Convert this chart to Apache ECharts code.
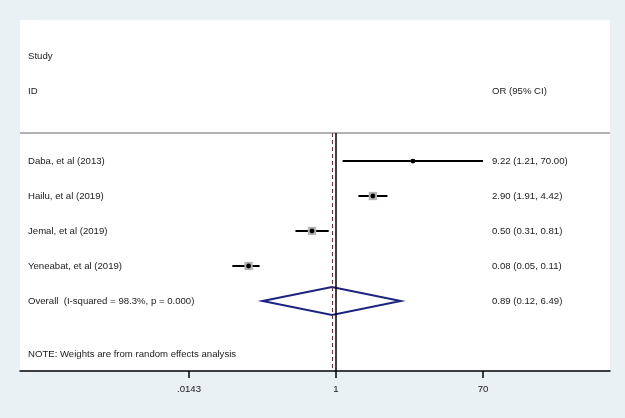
<!DOCTYPE html>
<html>
<head>
    <meta charset="utf-8">
    <title>forest plot</title>
    <style>
        html, body { margin: 0; padding: 0; background: #e9f1f4; }
    </style>
</head>
<body>
    <div id="main" style="width: 625px;height:418px;"></div>
    <script src="https://cdn.jsdelivr.net/npm/echarts@6/dist/echarts.min.js"></script>
    <script type="text/javascript">
        // study rows
        var studies = ['Daba, et al (2013)', 'Hailu, et al (2019)', 'Jemal, et al (2019)', 'Yeneabat, et al (2019)'];
        var orValues = [9.22, 2.90, 0.50, 0.08];
        var lowerCI = [1.21, 1.91, 0.31, 0.05];
        var upperCI = [70.00, 4.42, 0.81, 0.11];
        var weights = [7.6, 30.8, 30.7, 30.9];
        // pooled estimate
        var overallLabel = 'Overall  (I-squared = 98.3%, p = 0.000)';
        var overall = [0.89, 0.12, 6.49];
        // axis
        var tickValues = [0.0143, 1, 70];
        var tickLabels = ['.0143', '1', '70'];
        var noteText = 'NOTE: Weights are from random effects analysis';

        var fmt = function (v) { return v.toFixed(2); };
        var firstRow = 3;
        var headerLineRow = 2.2;
        var axisBottomRow = 9;
        var textStyle = { fontFamily: 'Liberation Sans, Arial, sans-serif', fontSize: 9.6, fill: '#1a1a1a' };

        var myChart = echarts.init(document.getElementById('main'));

        var studyData = studies.map(function (s, i) {
            return [firstRow + i, orValues[i], lowerCI[i], upperCI[i], weights[i]];
        });

        function leftX(params) { return params.coordSys.x + 8; }
        function rightX(params) { return params.coordSys.x + 472; }

        function renderStudy(params, api) {
            var i = params.dataIndex;
            var row = api.value(0);
            var pM = api.coord([api.value(1), row]);
            var pL = api.coord([api.value(2), row]);
            var pH = api.coord([api.value(3), row]);
            var s = Math.sqrt(api.value(4)) * 1.5;
            var rightTxt = fmt(orValues[i]) + ' (' + fmt(lowerCI[i]) + ', ' + fmt(upperCI[i]) + ')';
            return {
                type: 'group',
                children: [
                    { type: 'line', shape: { x1: pL[0], y1: pL[1], x2: pH[0], y2: pH[1] }, style: { stroke: '#000', lineWidth: 2 } },
                    { type: 'rect', shape: { x: pM[0] - s / 2, y: pM[1] - s / 2, width: s, height: s }, style: { fill: '#b4b4b4' } },
                    { type: 'circle', shape: { cx: pM[0], cy: pM[1], r: 2.4 }, style: { fill: '#000' } },
                    { type: 'text', x: leftX(params), y: pM[1], style: Object.assign({ text: studies[i], verticalAlign: 'middle' }, textStyle) },
                    { type: 'text', x: rightX(params), y: pM[1], style: Object.assign({ text: rightTxt, verticalAlign: 'middle' }, textStyle) }
                ]
            };
        }

        function renderOverall(params, api) {
            var row = api.value(0);
            var h = 0.4;
            var pL = api.coord([api.value(2), row]);
            var pH = api.coord([api.value(3), row]);
            var pTop = api.coord([api.value(1), row - h]);
            var pBot = api.coord([api.value(1), row + h]);
            var rightTxt = fmt(overall[0]) + ' (' + fmt(overall[1]) + ', ' + fmt(overall[2]) + ')';
            return {
                type: 'group',
                children: [
                    { type: 'polygon', shape: { points: [pL, pTop, pH, pBot] }, style: { fill: 'none', stroke: '#1c2380', lineWidth: 2 } },
                    { type: 'text', x: leftX(params), y: pL[1], style: Object.assign({ text: overallLabel, verticalAlign: 'middle' }, textStyle) },
                    { type: 'text', x: rightX(params), y: pL[1], style: Object.assign({ text: rightTxt, verticalAlign: 'middle' }, textStyle) }
                ]
            };
        }

        // header / note rows: [row, text, column]
        var textRows = [[0, 'Study', 'left'], [1, 'ID', 'left'], [1, 'OR (95% CI)', 'right'], [8.51, noteText, 'left']];

        function renderText(params, api) {
            var r = textRows[params.dataIndex];
            var p = api.coord([1, r[0]]);
            var x = r[2] === 'left' ? leftX(params) : rightX(params);
            return { type: 'text', x: x, y: p[1], style: Object.assign({ text: r[1], verticalAlign: 'middle' }, textStyle) };
        }

        var xMin = 1.084e-4, xMax = 2742;

        var option = {
            backgroundColor: '#e9f1f4',
            animation: false,
            grid: { left: 20, right: 15, top: 20, bottom: 47, show: true, backgroundColor: '#fff', borderWidth: 0 },
            xAxis: {
                type: 'log',
                logBase: 10,
                min: xMin,
                max: xMax,
                axisLine: { show: true, onZero: false, lineStyle: { color: '#000', width: 1.5 } },
                axisTick: { show: true, customValues: tickValues, length: 7, lineStyle: { color: '#000', width: 1.5 } },
                axisLabel: {
                    customValues: tickValues,
                    margin: 13,
                    color: '#1a1a1a',
                    fontSize: 9.6,
                    fontFamily: 'Liberation Sans, Arial, sans-serif',
                    formatter: function (v) {
                        var k = tickValues.findIndex(function (t) { return Math.abs(t - v) / t < 1e-6; });
                        return k >= 0 ? tickLabels[k] : '';
                    }
                },
                splitLine: { show: false }
            },
            yAxis: {
                type: 'value',
                inverse: true,
                min: -1.03,
                max: axisBottomRow,
                show: false
            },
            series: [
                {
                    type: 'custom',
                    renderItem: renderStudy,
                    data: studyData,
                    z: 3,
                    markLine: {
                        silent: true,
                        symbol: 'none',
                        label: { show: false },
                        data: [
                            [{ coord: [xMin, headerLineRow], lineStyle: { color: '#9a9a9a', width: 1.5, type: 'solid' } }, { coord: [xMax, headerLineRow] }],
                            [{ coord: [1, headerLineRow], lineStyle: { color: '#000', width: 1.5, type: 'solid' } }, { coord: [1, axisBottomRow] }],
                            [{ coord: [overall[0], headerLineRow], lineStyle: { color: '#a3162c', width: 1, type: [4, 3] } }, { coord: [overall[0], axisBottomRow] }]
                        ]
                    }
                },
                {
                    type: 'custom',
                    renderItem: renderOverall,
                    data: [[firstRow + studies.length, overall[0], overall[1], overall[2]]],
                    z: 4
                },
                {
                    type: 'custom',
                    renderItem: renderText,
                    data: textRows.map(function (r) { return [1, r[0]]; }),
                    encode: { x: 0, y: 1 }
                }
            ]
        };
        myChart.setOption(option);
    </script>
</body>
</html>
